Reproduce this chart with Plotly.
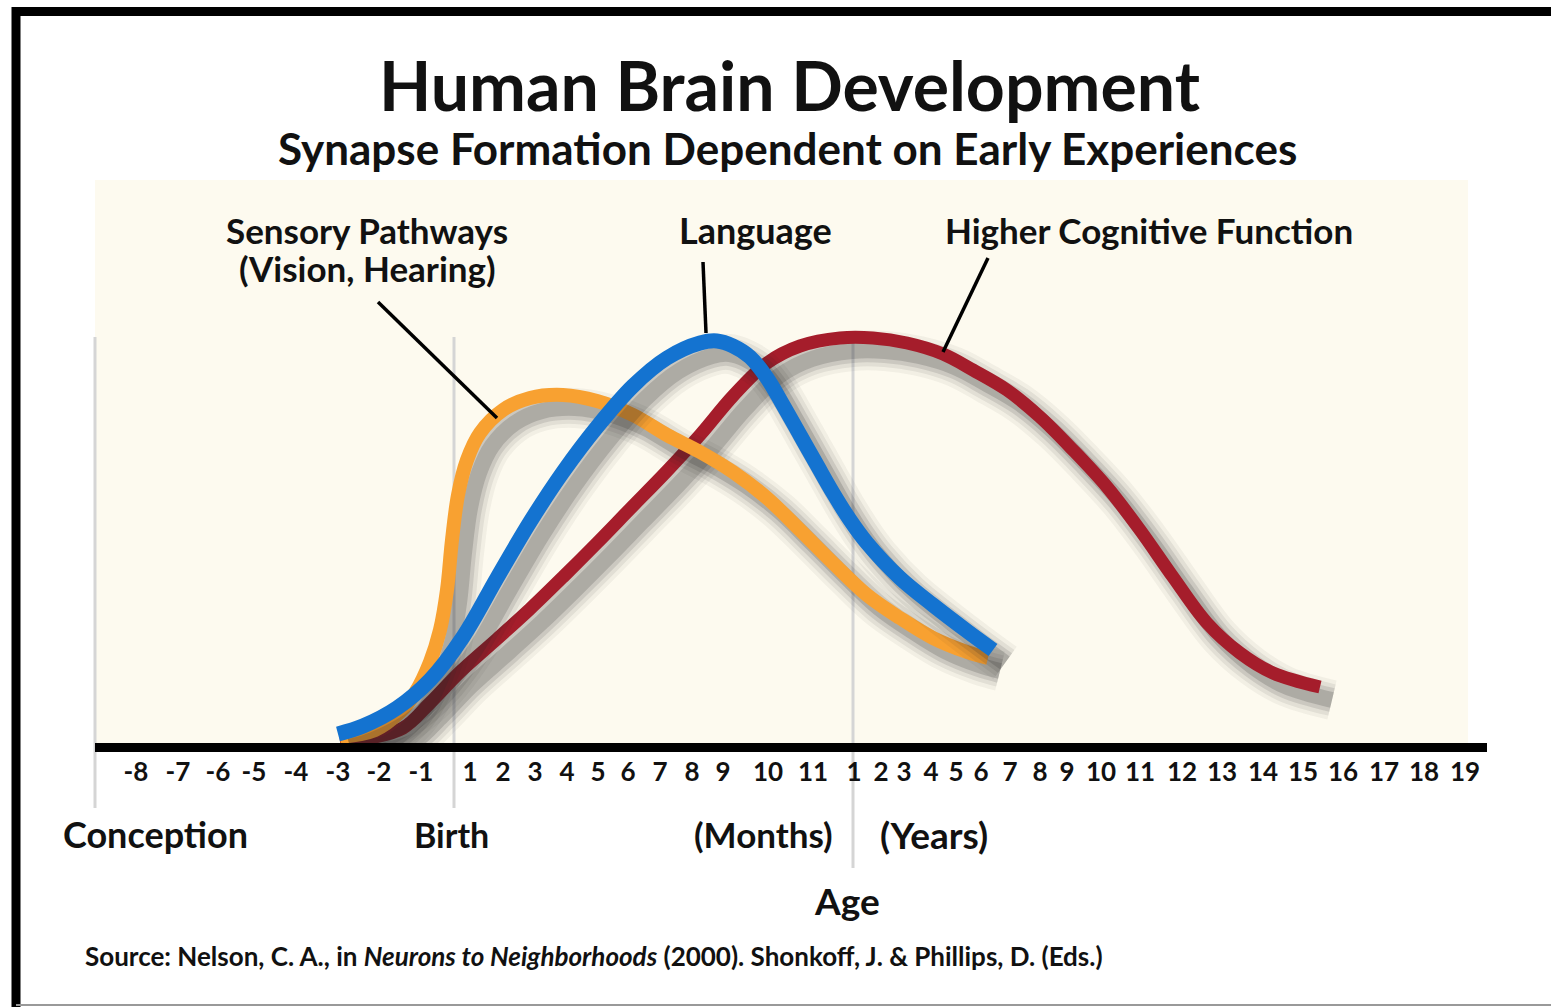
import plotly.graph_objects as go

# ---------------- data ----------------
# timeline positions (axis units) and their labels
tick_pos = [136, 178, 218, 254, 296, 338, 379, 421,
            470, 503, 535, 567, 598, 628, 660, 692, 723, 768, 813,
            854, 881, 904, 931, 956, 981, 1010, 1040, 1067, 1101, 1140, 1182,
            1222, 1263, 1303, 1343, 1384, 1424, 1465]
tick_labels = ['-8', '-7', '-6', '-5', '-4', '-3', '-2', '-1',
               '1', '2', '3', '4', '5', '6', '7', '8', '9', '10', '11',
               '1', '2', '3', '4', '5', '6', '7', '8', '9', '10', '11', '12',
               '13', '14', '15', '16', '17', '18', '19']

# Sensory Pathways (Vision, Hearing)
sensory_x = [340, 375, 400, 415, 430, 440, 447, 452, 458, 467, 480, 503, 530, 563,
             597, 633, 667, 700, 733, 767, 800, 833, 867, 900, 933, 967, 988]
sensory_y = [11, 18, 36, 55, 86, 118, 158, 208, 253, 288, 315, 338, 350, 353,
             347, 333, 313, 296, 276, 250, 218, 185, 153, 130, 110, 96, 90]

# Language
language_x = [338, 363, 397, 430, 463, 497, 530, 563, 597, 633, 667, 700, 717,
              733, 750, 767, 783, 800, 817, 833, 850, 867, 900, 933, 967, 993]
language_y = [14, 22, 40, 68, 111, 170, 226, 276, 321, 362, 390, 405, 407,
              402, 391, 370, 343, 313, 283, 255, 228, 205, 170, 143, 117, 98]

# Higher Cognitive Function
higher_x = [340, 370, 403, 430, 460, 497, 530, 563, 597, 630, 667, 700, 733, 767,
            800, 840, 873, 907, 943, 973, 1007, 1040, 1073, 1107, 1140, 1173,
            1207, 1240, 1273, 1320]
higher_y = [6, 10, 20, 45, 76, 109, 139, 171, 205, 239, 277, 313, 352, 385,
            402, 410, 410, 405, 394, 378, 358, 331, 298, 261, 218, 171,
            125, 95, 75, 61]

# ---------------- layout helpers ----------------
W, H = 1551, 1007
ML, MR, MT, MB = 95, 83, 180, 259
PW, PH = W - ML - MR, H - MT - MB
FONT = "Lato"


def px(x):
    return (x - ML) / PW


def py(y):
    return (H - MB - y) / PH


fig = go.Figure()

SH_DX, SH_DY = 12, -13
series = [
    (higher_x, higher_y, "#A51D2B", 13),
    (sensory_x, sensory_y, "#F8A131", 14),
    (language_x, language_y, "#1473D0", 15),
]
for xs, ys, col, w in series:
    sx = [v + SH_DX for v in xs]
    sy = [v + SH_DY for v in ys]
    for sw, a in [(40, 0.05), (32, 0.08), (24, 0.12), (16, 0.18)]:
        fig.add_trace(go.Scatter(x=sx, y=sy, mode="lines",
                                 line=dict(color=f"rgba(40,40,40,{a})", width=sw, shape="spline"),
                                 hoverinfo="skip", showlegend=False))
    fig.add_trace(go.Scatter(x=xs, y=ys, mode="lines",
                             line=dict(color=col, width=w, shape="spline"),
                             showlegend=False))

shapes = []
# beige plotting background
shapes.append(dict(type="rect", xref="paper", yref="paper", x0=px(95), x1=px(1468),
                   y0=py(748), y1=py(180), fillcolor="#FDFAEF", line=dict(width=0), layer="below"))
# vertical markers: conception, birth, 1 year
for x, y0, y1 in [(95, 337, 808), (454, 337, 808), (853, 335, 868)]:
    shapes.append(dict(type="line", xref="paper", yref="paper", x0=px(x), x1=px(x),
                       y0=py(y0), y1=py(y1), line=dict(color="#D5D5D5", width=3), layer="below"))
# axis line
shapes.append(dict(type="line", xref="paper", yref="paper", x0=px(95), x1=px(1487),
                   y0=py(747.5), y1=py(747.5), line=dict(color="black", width=9), layer="above"))
# leader lines
for x0, y0, x1, y1 in [(378, 302, 497, 418), (703, 262, 706, 333), (988, 258, 943, 352)]:
    shapes.append(dict(type="line", xref="paper", yref="paper", x0=px(x0), x1=px(x1),
                       y0=py(y0), y1=py(y1), line=dict(color="black", width=3.5), layer="above"))
# frame
shapes.append(dict(type="line", xref="paper", yref="paper", x0=px(12), x1=px(1551),
                   y0=py(11.5), y1=py(11.5), line=dict(color="black", width=9)))
shapes.append(dict(type="line", xref="paper", yref="paper", x0=px(16), x1=px(16),
                   y0=py(7), y1=py(1007), line=dict(color="black", width=9)))
shapes.append(dict(type="line", xref="paper", yref="paper", x0=px(16), x1=px(1551),
                   y0=py(1005), y1=py(1005), line=dict(color="#999999", width=2)))

annotations = []


def txt(text, x, y, size, xanchor="center"):
    annotations.append(dict(text=text, x=px(x), y=py(y), xref="paper", yref="paper",
                            xanchor=xanchor, yanchor="middle", showarrow=False,
                            font=dict(family=FONT, size=size, color="#111111")))


txt("<b>Human Brain Development</b>", 789, 84, 68)
txt("<b>Synapse Formation Dependent on Early Experiences</b>", 787, 148, 44)
txt("<b>Sensory Pathways</b>", 367, 230, 35)
txt("<b>(Vision, Hearing)</b>", 367, 268, 35)
txt("<b>Language</b>", 755, 230, 36)
txt("<b>Higher Cognitive Function</b>", 1149, 230, 35)
txt("<b>Conception</b>", 155, 834, 36)
txt("<b>Birth</b>", 451, 834, 34)
txt("<b>(Months)</b>", 763, 834, 35)
txt("<b>(Years)</b>", 934, 834, 37)
txt("<b>Age</b>", 847, 900, 37)
txt("<b>Source: Nelson, C. A., in <i>Neurons to Neighborhoods</i> (2000). Shonkoff, J. &amp; Phillips, D. (Eds.)</b>",
    83, 956, 26, xanchor="left")

fig.update_layout(
    width=W, height=H, margin=dict(l=ML, r=MR, t=MT, b=MB, pad=0),
    paper_bgcolor="white", plot_bgcolor="rgba(0,0,0,0)",
    shapes=shapes, annotations=annotations, showlegend=False,
    xaxis=dict(range=[ML, W - MR], tickmode="array", tickvals=tick_pos,
               ticktext=[f"<b>{t}</b>" for t in tick_labels],
               ticks="outside", ticklen=1, tickwidth=0, tickcolor="rgba(0,0,0,0)",
               tickfont=dict(family=FONT, size=26, color="#111111"),
               showgrid=False, zeroline=False, showline=False, fixedrange=True),
    yaxis=dict(range=[0, PH], visible=False, showgrid=False, zeroline=False, fixedrange=True),
)

fig.write_html("out.html", config={"displayModeBar": False},
               post_script="document.body.style.margin='0';document.body.style.padding='0';")
